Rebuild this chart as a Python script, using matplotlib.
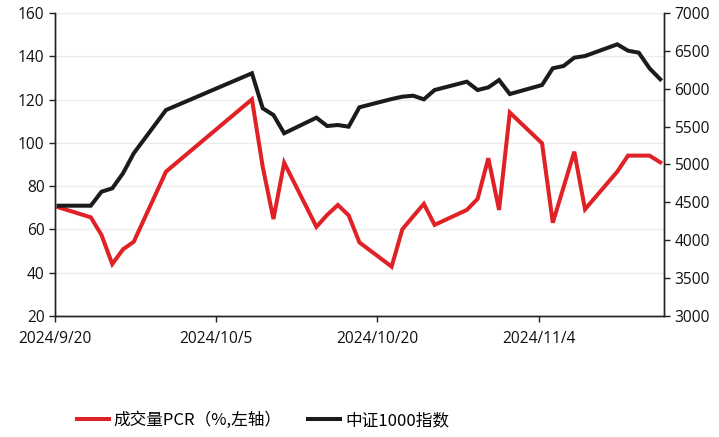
import matplotlib
matplotlib.use("Agg")
import matplotlib.pyplot as plt
import matplotlib.dates as mdates
import numpy as np
import datetime as dt

plt.rcParams['font.family'] = ['Noto Sans CJK SC', 'DejaVu Sans']

dates = ["2024-09-20", "2024-09-23", "2024-09-24", "2024-09-25", "2024-09-26", "2024-09-27",
         "2024-09-30", "2024-10-08", "2024-10-09", "2024-10-10", "2024-10-11",
         "2024-10-14", "2024-10-15", "2024-10-16", "2024-10-17", "2024-10-18",
         "2024-10-21", "2024-10-22", "2024-10-23", "2024-10-24", "2024-10-25",
         "2024-10-28", "2024-10-29", "2024-10-30", "2024-10-31", "2024-11-01",
         "2024-11-04", "2024-11-05", "2024-11-06", "2024-11-07", "2024-11-08",
         "2024-11-11", "2024-11-12", "2024-11-13", "2024-11-14", "2024-11-15"]

pcr = [70.2, 65.6, 57.4, 44.0, 50.8, 54.3,
       86.7, 120.1, 89.0, 64.8, 90.8,
       61.2, 66.7, 71.3, 66.5, 54.0,
       42.8, 60.1, 66.0, 71.8, 62.1,
       69.0, 74.1, 92.9, 69.0, 114.0,
       99.8, 63.1, 79.5, 95.9, 69.3,
       86.7, 94.1, 94.1, 94.1, 91.0]

csi1000 = [4456, 4456, 4641, 4685, 4884, 5148,
           5719, 6204, 5742, 5653, 5412,
           5618, 5508, 5521, 5499, 5755,
           5864, 5895, 5908, 5860, 5983,
           6093, 5983, 6018, 6115, 5930,
           6049, 6270, 6300, 6410, 6432,
           6586, 6502, 6476, 6270, 6125]

xtick_dates = ["2024-09-20", "2024-10-05", "2024-10-20", "2024-11-04"]
xtick_labels = ["2024/9/20", "2024/10/5", "2024/10/20", "2024/11/4"]
left_ticks = [20, 40, 60, 80, 100, 120, 140, 160]
right_ticks = [3000, 3500, 4000, 4500, 5000, 5500, 6000, 6500, 7000]

x = mdates.date2num([dt.datetime.strptime(d, "%Y-%m-%d") for d in dates])
xt = mdates.date2num([dt.datetime.strptime(d, "%Y-%m-%d") for d in xtick_dates])

red = "#e02126"
blk = "#1b1b1b"

fig = plt.figure(figsize=(7.19, 4.37), dpi=100)
ax = fig.add_axes([0.0765, 0.2769, 0.847, 0.6934])
ax2 = ax.twinx()

l1, = ax.plot(x, pcr, color=red, lw=2.9, solid_joinstyle='miter', label="成交量PCR（%,左轴）", zorder=3)
l2, = ax2.plot(x, csi1000, color=blk, lw=2.9, solid_joinstyle='miter', label="中证1000指数", zorder=3)

ax.set_xlim(x[0] - 0.33, x[-1] + 0.35)
ax.set_ylim(20, 160)
ax2.set_ylim(3000, 7000)
ax.set_yticks(left_ticks)
ax2.set_yticks(right_ticks)
ax.set_xticks(xt - 0.33)
ax.set_xticklabels(xtick_labels)

ax.grid(axis='y', color='#ebebeb', lw=1.0)
ax.set_axisbelow(True)

for a in (ax, ax2):
    a.spines['top'].set_visible(False)
    for s in ('left', 'right', 'bottom'):
        a.spines[s].set_color('#222222')
        a.spines[s].set_linewidth(1.0)
    a.tick_params(colors='#222222', labelcolor='#111111', length=4.5, width=1.0, labelsize=11.2)
    for lab in a.get_xticklabels() + a.get_yticklabels():
        lab.set_fontfamily(['Open Sans', 'DejaVu Sans'])
ax.tick_params(axis='y', pad=3)
ax2.tick_params(axis='y', pad=3)
ax.tick_params(axis='x', pad=6.5)

fig.legend(handles=[l1, l2], loc='center', bbox_to_anchor=(0.366, 0.038), ncol=2,
           frameon=False, fontsize=12, handlelength=1.9, handletextpad=0.3,
           columnspacing=1.6)

fig.savefig("out.png", dpi=100)
